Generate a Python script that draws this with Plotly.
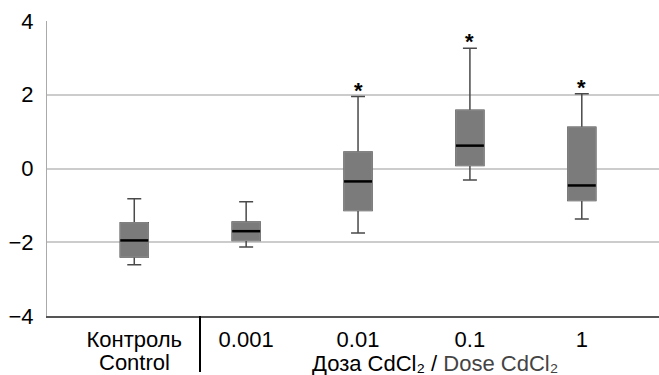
import plotly.graph_objects as go

# ---- data ----
groups = ["Контроль", "0.001", "0.01", "0.1", "1"]
group_subtitles = ["Control", "", "", "", ""]
upper_whisker = [-0.82, -0.90, 1.95, 3.26, 2.03]
q3_values = [-1.47, -1.45, 0.45, 1.58, 1.12]
median_values = [-1.95, -1.70, -0.35, 0.62, -0.46]
q1_values = [-2.40, -1.95, -1.14, 0.08, -0.87]
lower_whisker = [-2.61, -2.13, -1.75, -0.31, -1.37]
significant = [False, False, True, True, True]
y_tick_values = [-4, -2, 0, 2, 4]
y_tick_labels = ["\u22124", "\u22122", "0", "2", "4"]

# ---- layout constants ----
box_pos = list(range(len(groups)))
half_w = 0.125
font = "Liberation Sans, Arial, sans-serif"

fig = go.Figure()
# whiskers (dark)
fig.add_trace(go.Box(
    x=box_pos, q1=q1_values, median=median_values, q3=q3_values,
    lowerfence=lower_whisker, upperfence=upper_whisker,
    width=2 * half_w, whiskerwidth=0.5,
    fillcolor="#7b7b7b", line=dict(color="#4a4a4a", width=1.5),
    boxpoints=False, showlegend=False, hoverinfo="skip",
))
# box body with lighter outline
fig.add_trace(go.Box(
    x=box_pos, q1=q1_values, median=median_values, q3=q3_values,
    lowerfence=q1_values, upperfence=q3_values,
    width=2 * half_w, whiskerwidth=0,
    fillcolor="#7b7b7b", line=dict(color="#8c8c8c", width=1),
    boxpoints=False, showlegend=False, hoverinfo="skip",
))
# median lines (black)
for xp, m in zip(box_pos, median_values):
    fig.add_trace(go.Scatter(
        x=[xp - half_w, xp + half_w], y=[m, m], mode="lines",
        line=dict(color="black", width=2.5), showlegend=False, hoverinfo="skip",
    ))
# significance asterisks
for xp, up, s in zip(box_pos, upper_whisker, significant):
    if s:
        fig.add_annotation(x=xp, y=up, text="<b>*</b>", showarrow=False,
                           yanchor="bottom", yshift=-8,
                           font=dict(family=font, size=22, color="black"))
# second line of category labels
for xp, sub in zip(box_pos, group_subtitles):
    if sub:
        fig.add_annotation(x=xp, xref="x", yref="paper", y=-46 / 295,
                           text=sub, showarrow=False, yanchor="middle",
                           xanchor="center",
                           font=dict(family=font, size=22, color="black"))

# separator line under the axis
fig.add_shape(type="line", xref="paper", yref="paper",
              x0=(200 - 47) / 612, x1=(200 - 47) / 612, y0=0, y1=-56 / 295,
              line=dict(color="black", width=2))
# dose caption
fig.add_annotation(xref="paper", yref="paper", x=(434.5 - 47) / 612, y=-47 / 295,
                   yanchor="middle", xanchor="center", showarrow=False,
                   text="Доза CdCl₂ / <span style='color:#444'>Dose CdCl₂</span>",
                   font=dict(family=font, size=22, color="black"))

fig.update_layout(
    width=659, height=375,
    margin=dict(l=47, r=0, t=21, b=59, autoexpand=False),
    plot_bgcolor="white", paper_bgcolor="white",
    font=dict(family=font, size=22, color="black"),
    xaxis=dict(range=[-0.78, 4.69], tickvals=box_pos, ticktext=groups,
               showgrid=False, zeroline=False, showline=True, automargin=False,
               linecolor="#555555", linewidth=1.5, ticks="", ticklen=0,
               ticklabelstandoff=3, tickfont=dict(size=22)),
    yaxis=dict(range=[-4, 4], tickvals=y_tick_values, ticktext=y_tick_labels,
               showgrid=True, gridcolor="#cccccc", gridwidth=1.5, automargin=False,
               zeroline=False, showline=True, linecolor="#aaaaaa", linewidth=1,
               ticks="", ticklabelstandoff=8, tickfont=dict(size=22)),
)

fig.write_html("out.html")
